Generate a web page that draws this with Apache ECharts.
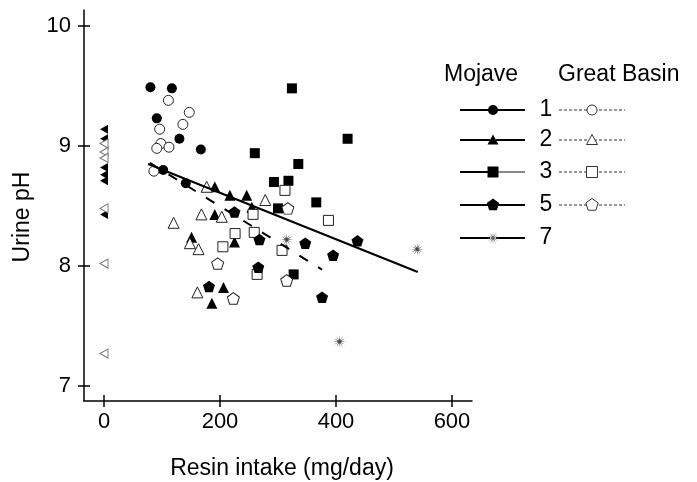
<!DOCTYPE html>
<html><head><meta charset="utf-8">
<script src="https://cdn.jsdelivr.net/npm/echarts@6/dist/echarts.min.js"></script>
<style>html,body{margin:0;padding:0;background:#fff}#c{width:697px;height:482px}</style>
</head><body><div id="c"></div>
<script>
// ---- data ----
const xTicks = [0, 200, 400, 600];
const yTicks = [7, 8, 9, 10];
const mojave1 = [[80,9.49],[117,9.48],[91,9.23],[130,9.06],[167,8.97],[102,8.80],[141,8.69]];
const basin1  = [[111,9.38],[147,9.28],[136,9.18],[96,9.14],[98,9.02],[91,8.98],[112,8.99],[86,8.79]];
const mojave2 = [[191,8.66],[217,8.59],[246,8.59],[255,8.49],[191,8.43],[151,8.24],[225,8.20],[206,7.82],[186,7.69]];
const basin2  = [[177,8.66],[278,8.55],[168,8.43],[203,8.41],[120,8.36],[148,8.19],[163,8.14],[161,7.78]];
const mojave3 = [[324,9.48],[420,9.06],[260,8.94],[335,8.85],[293,8.70],[318,8.71],[366,8.53],[300,8.48],[327,7.93]];
const basin3  = [[312,8.63],[387,8.38],[257,8.43],[226,8.27],[259,8.28],[205,8.16],[307,8.13],[264,7.93]];
const mojave5 = [[225,8.45],[268,8.22],[347,8.19],[437,8.21],[395,8.09],[266,7.99],[376,7.74],[181,7.83]];
const basin5  = [[317,8.48],[196,8.02],[315,7.88],[223,7.73]];
const mojave7 = [[540,8.14],[406,7.37],[315,8.22]];
const mojaveZeroPH = [9.14, 9.06, 8.82, 8.76, 8.71, 8.43];
const basinZeroPH  = [9.02, 8.95, 8.90, 8.48, 8.02, 7.27];
const mojaveFit = [[76,8.85],[541,7.95]];
const basinFit  = [[79,8.86],[376,7.97]];
const legendNums = ['1','2','3','5','7'];

// ---- shapes ----
function polyPts(cx, cy, R, r, n, rot) {
  const pts = [];
  const m = r == null ? n : n * 2;
  for (let i = 0; i < m; i++) {
    const rad = (r == null || i % 2 === 0) ? R : r;
    const a = rot + i * Math.PI * 2 / m;
    pts.push([cx + rad * Math.sin(a), cy - rad * Math.cos(a)]);
  }
  return pts;
}
function toPath(pts) {
  return 'path://' + pts.map((p, i) => (i ? 'L' : 'M') + p[0].toFixed(2) + ',' + p[1].toFixed(2)).join(' ') + ' Z';
}
const PENT = toPath(polyPts(0, 0, 10, null, 5, 0));
const STAR = toPath(polyPts(0, 0, 10, 2.2, 12, 0));

const FONT = '"Liberation Sans", Arial, Helvetica, sans-serif';
const BLACK = '#000';
const OPEN = { color: '#fff', borderColor: '#222', borderWidth: 1, opacity: 1 };
const FILLED = { color: '#000', opacity: 1 };

function sc(name, data, symbol, size, style, extra) {
  return Object.assign({
    name, type: 'scatter', data, symbol, symbolSize: size,
    itemStyle: style, xAxisIndex: 0, yAxisIndex: 0, z: 3
  }, extra || {});
}

const chart = echarts.init(document.getElementById('c'), null, { renderer: 'canvas' });

const gridRect = { left: 84, right: 225, top: 10, bottom: 81 };
const xMin = -34.5, xMax = 634.5, yMin = 6.875, yMax = 10.133;

function xAx(gi, inside) {
  return {
    type: 'value', gridIndex: gi, min: xMin, max: xMax, position: 'bottom',
    axisLine: { show: !inside, onZero: false, lineStyle: { color: BLACK, width: 1.5 } },
    axisTick: { show: true, inside, customValues: xTicks, length: 6, lineStyle: { color: BLACK, width: 1.5 } },
    axisLabel: { show: !inside, customValues: xTicks, fontSize: 22, color: BLACK, margin: 10, fontFamily: FONT },
    splitLine: { show: false }
  };
}
function yAx(gi, inside) {
  return {
    type: 'value', gridIndex: gi, min: yMin, max: yMax, position: 'left',
    axisLine: { show: !inside, onZero: false, lineStyle: { color: BLACK, width: 1.5 } },
    axisTick: { show: true, inside, customValues: yTicks, length: 6, lineStyle: { color: BLACK, width: 1.5 } },
    axisLabel: { show: !inside, customValues: yTicks, fontSize: 22, color: BLACK, margin: 13, fontFamily: FONT },
    splitLine: { show: false }
  };
}

// legend graphics
const rowsY = [110, 140, 172, 205, 238];
const g = [];
g.push({ type: 'text', x: 444, y: 75, style: { text: 'Mojave', font: '23px ' + FONT, fill: BLACK, textAlign: 'left', textVerticalAlign: 'middle' } });
g.push({ type: 'text', x: 558, y: 75, style: { text: 'Great Basin', font: '23px ' + FONT, fill: BLACK, textAlign: 'left', textVerticalAlign: 'middle' } });
function legendSymbol(kind, cx, cy, open) {
  const st = open ? { fill: '#fff', stroke: '#333', lineWidth: 1 } : { fill: BLACK };
  if (kind === 0) return { type: 'circle', shape: { cx, cy, r: 5 }, style: st, z: 10 };
  if (kind === 1) return { type: 'polygon', shape: { points: [[cx, cy - 5.5], [cx + 5.5, cy + 4.5], [cx - 5.5, cy + 4.5]] }, style: st, z: 10 };
  if (kind === 2) return { type: 'rect', shape: { x: cx - 5.5, y: cy - 5.5, width: 11, height: 11 }, style: st, z: 10 };
  if (kind === 3) return { type: 'polygon', shape: { points: polyPts(cx, cy, 6.5, null, 5, 0) }, style: st, z: 10 };
  return { type: 'polygon', shape: { points: polyPts(cx, cy, 6.5, 1.5, 12, 0) }, style: { fill: '#666' }, z: 10 };
}
rowsY.forEach((y, i) => {
  g.push({ type: 'line', shape: { x1: 460, y1: y, x2: 490, y2: y }, style: { stroke: BLACK, lineWidth: 2 } });
  g.push({ type: 'line', shape: { x1: 496, y1: y, x2: 525, y2: y }, style: { stroke: i === 2 ? '#888' : BLACK, lineWidth: 2 } });
  g.push(legendSymbol(i, 493, y, false));
  g.push({ type: 'text', x: 546, y: y, style: { text: legendNums[i], font: '23px ' + FONT, fill: BLACK, textAlign: 'center', textVerticalAlign: 'middle' } });
  if (i < 4) {
    g.push({ type: 'line', shape: { x1: 559, y1: y, x2: 625, y2: y }, style: { stroke: '#333', lineWidth: 1, lineDash: [3, 2] } });
    g.push(legendSymbol(i, 592, y, true));
  }
});
g.push({ type: 'text', x: 23, y: 217, rotation: Math.PI / 2, style: { text: 'Urine pH', font: '23px ' + FONT, fill: BLACK, textAlign: 'center', textVerticalAlign: 'middle' } });
g.push({ type: 'text', x: 282, y: 469, style: { text: 'Resin intake (mg/day)', font: '23px ' + FONT, fill: BLACK, textAlign: 'center', textVerticalAlign: 'middle' } });

const option = {
  animation: false,
  backgroundColor: '#fff',
  grid: [Object.assign({}, gridRect), Object.assign({}, gridRect)],
  xAxis: [xAx(0, false), xAx(1, true)],
  yAxis: [yAx(0, false), yAx(1, true)],
  graphic: { elements: g },
  series: [
    sc('Mojave 1', mojave1, 'circle', 10, FILLED),
    sc('Great Basin 1', basin1, 'circle', 10, OPEN),
    sc('Mojave 2', mojave2, 'triangle', 11, FILLED),
    sc('Great Basin 2', basin2, 'triangle', 11, OPEN),
    sc('Mojave 3', mojave3, 'rect', 10, FILLED),
    sc('Great Basin 3', basin3, 'rect', 10, OPEN),
    sc('Mojave 5', mojave5, PENT, [12, 11.5], FILLED),
    sc('Great Basin 5', basin5, PENT, [12, 11.5], OPEN),
    sc('Mojave 7', mojave7, STAR, 13, { color: '#444', opacity: 1 }),
    sc('Mojave 0', mojaveZeroPH.map(v => [0, v]), 'triangle', [9, 8], FILLED, { symbolRotate: 90 }),
    sc('Great Basin 0', basinZeroPH.map(v => [0, v]), 'triangle', [9, 8], { color: '#fff', borderColor: '#777', borderWidth: 1, opacity: 1 }, { symbolRotate: 90 }),
    { name: 'Mojave fit', type: 'line', data: mojaveFit, symbol: 'none', z: 4,
      lineStyle: { color: BLACK, width: 2 } },
    { name: 'Great Basin fit', type: 'line', data: basinFit, symbol: 'none', z: 4,
      lineStyle: { color: BLACK, width: 2, type: [10, 12] } }
  ]
};
chart.setOption(option);
</script>
</body></html>
